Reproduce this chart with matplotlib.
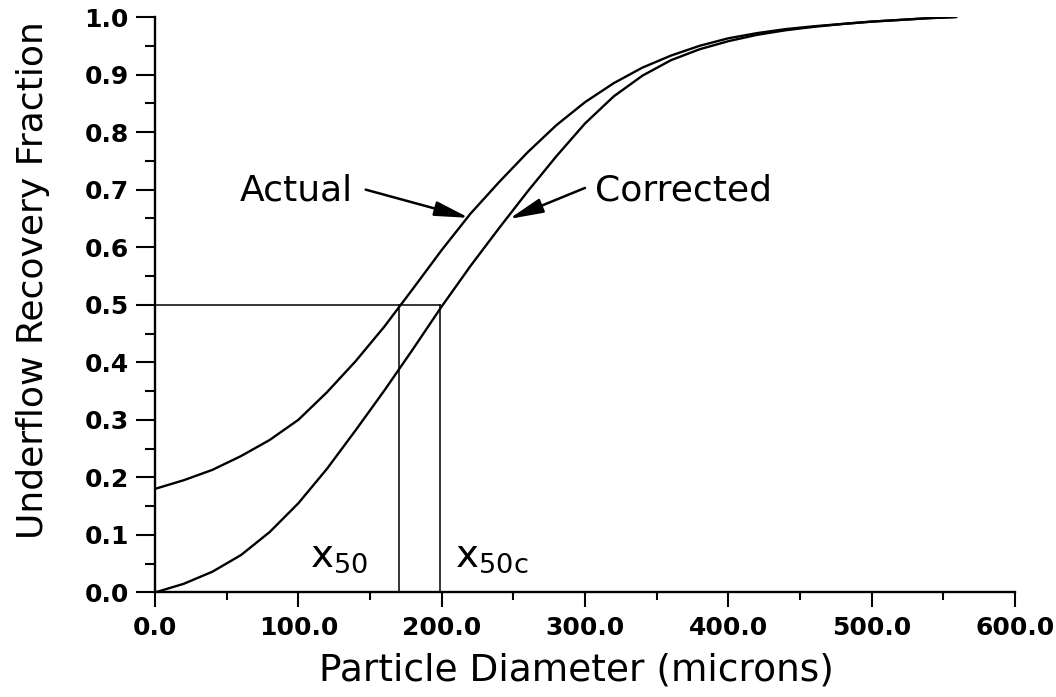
import numpy as np
import matplotlib
matplotlib.use('Agg')
import matplotlib.pyplot as plt
from matplotlib.ticker import MultipleLocator

# Values
diameter = [0, 20, 40, 60, 80, 100, 120, 140, 160, 180, 200, 220, 240, 260,
            280, 300, 320, 340, 360, 380, 400, 420, 440, 460, 480, 500, 520,
            540, 559]
actual = [0.180, 0.195, 0.213, 0.237, 0.265, 0.300, 0.348, 0.402, 0.462,
          0.528, 0.595, 0.658, 0.713, 0.765, 0.812, 0.852, 0.885, 0.912,
          0.933, 0.950, 0.963, 0.972, 0.979, 0.984, 0.988, 0.992, 0.995,
          0.998, 1.0]
corrected = [0.0, 0.015, 0.036, 0.065, 0.105, 0.155, 0.215, 0.282, 0.351,
             0.423, 0.497, 0.567, 0.633, 0.697, 0.758, 0.815, 0.862, 0.898,
             0.925, 0.944, 0.958, 0.969, 0.977, 0.983, 0.988, 0.992, 0.995,
             0.998, 1.0]

x50 = 170.0
x50c = 199.0
cut_fraction = 0.5

x_ticks = [0, 100, 200, 300, 400, 500, 600]
y_ticks = [0.0, 0.1, 0.2, 0.3, 0.4, 0.5, 0.6, 0.7, 0.8, 0.9, 1.0]

fig = plt.figure(figsize=(10.56, 6.97), dpi=100)
ax = fig.add_axes([0.1468, 0.150, 0.8144, 0.8256])

ax.plot(diameter, actual, color='black', lw=1.7, solid_capstyle='round',
        solid_joinstyle='round')
ax.plot(diameter, corrected, color='black', lw=1.7, solid_capstyle='round',
        solid_joinstyle='round')

# cut size construction lines
ax.plot([0, x50c], [cut_fraction, cut_fraction], color='black', lw=1.1)
ax.plot([x50, x50], [0, cut_fraction], color='black', lw=1.1)
ax.plot([x50c, x50c], [0, cut_fraction], color='black', lw=1.1)

ax.set_xlim(0, 600)
ax.set_ylim(0, 1.0)

for side in ['top', 'right']:
    ax.spines[side].set_visible(False)
ax.spines['left'].set_linewidth(1.7)
ax.spines['bottom'].set_linewidth(1.7)

ax.set_xticks(x_ticks)
ax.set_xticklabels([f'{v:.1f}' for v in x_ticks])
ax.set_yticks(y_ticks)
ax.set_yticklabels([f'{v:.1f}' for v in y_ticks])
ax.xaxis.set_minor_locator(MultipleLocator(50))
ax.yaxis.set_minor_locator(MultipleLocator(0.05))

ax.tick_params(axis='x', which='major', direction='out', length=11, width=1.5, pad=6)
ax.tick_params(axis='x', which='minor', direction='out', length=5.5, width=1.5)
ax.tick_params(axis='y', which='major', direction='out', length=14, width=1.5, pad=5)
ax.tick_params(axis='y', which='minor', direction='out', length=7, width=1.5)
for lab in ax.get_xticklabels() + ax.get_yticklabels():
    lab.set_fontsize(18)
    lab.set_fontweight('bold')
for t in ax.xaxis.get_major_ticks() + ax.yaxis.get_major_ticks():
    t.tick1line.set_clip_on(False)

ax.set_xlabel('Particle Diameter (microns)', fontsize=27)
ax.set_ylabel('Underflow Recovery Fraction', fontsize=26)
ax.xaxis.set_label_coords(0.49, -0.105)
ax.yaxis.set_label_coords(-0.122, 0.543)

# curve annotations
arrow = dict(arrowstyle='-|>,head_length=1.3,head_width=0.28', color='black',
             lw=1.8, shrinkA=0, shrinkB=0, mutation_scale=16)
ax.annotate('', xy=(219, 0.651), xytext=(147, 0.700), arrowprops=arrow)
ax.annotate('', xy=(247, 0.649), xytext=(300, 0.703), arrowprops=arrow)
ax.text(138, 0.698, 'Actual', fontsize=26, ha='right', va='center')
ax.text(307, 0.698, 'Corrected', fontsize=26, ha='left', va='center')

ax.text(108, 0.044, r'x$_{\mathregular{50}}$', fontsize=28, ha='left', va='baseline')
ax.text(209, 0.044, r'x$_{\mathregular{50c}}$', fontsize=28, ha='left', va='baseline')

fig.savefig('out.png', dpi=100, facecolor='white')
